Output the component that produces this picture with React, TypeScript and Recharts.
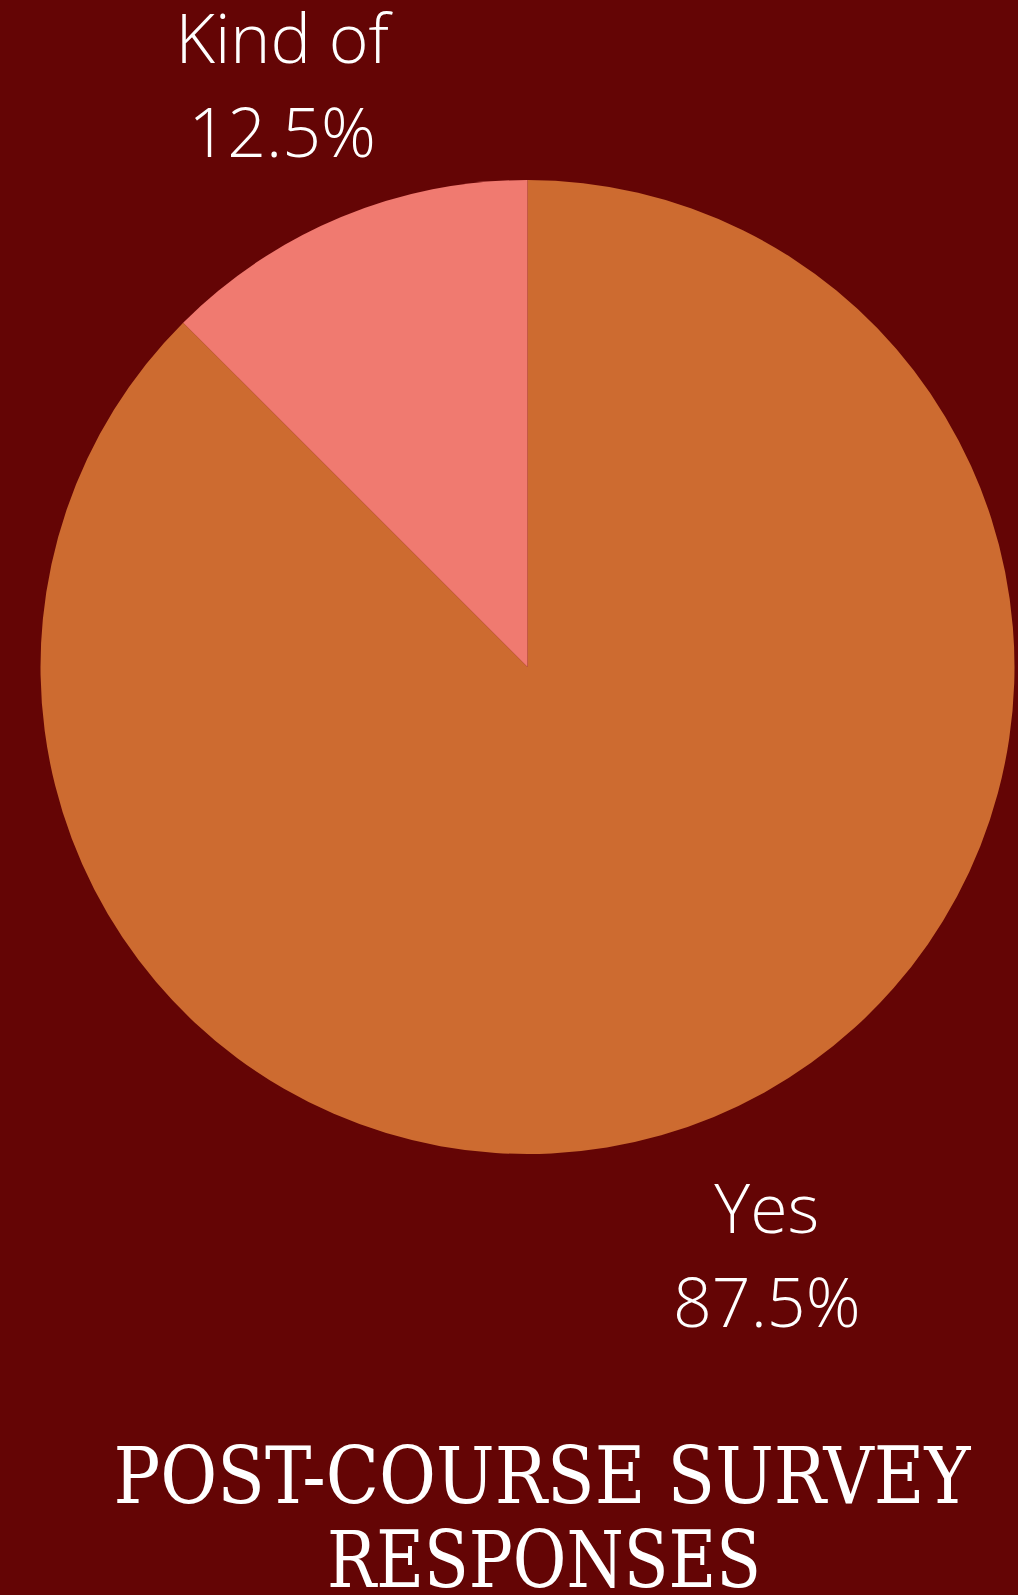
import { Cell, Pie, PieChart } from 'recharts';

const W = 1018;
const H = 1595;
const BG = '#640505';

const categories = ['Yes', 'Kind of'];
const shares = [87.5, 12.5];
const COLORS = ['#cd6b30', '#f07a70'];
const titleLines = ['POST-COURSE SURVEY', 'RESPONSES'];

const data = categories.map((name, i) => ({ name, value: shares[i] }));

const RADIAN = Math.PI / 180;

// label sits well outside the pie along the slice's middle angle
function renderLabel(props: any) {
  const { cx, cy, midAngle, outerRadius, percent, name } = props;
  const r = outerRadius * 1.3;
  const x = cx + r * Math.cos(-midAngle * RADIAN) - 3;
  const y = cy + r * Math.sin(-midAngle * RADIAN);
  return (
    <text
      x={x}
      y={y}
      fill="#ffffff"
      textAnchor="middle"
      fontFamily="'Open Sans', sans-serif"
      fontWeight={300}
      fontSize={68}
    >
      <tspan x={x} dy={-19}>{name}</tspan>
      <tspan x={x} dy={94}>{`${(percent * 100).toFixed(1)}%`}</tspan>
    </text>
  );
}

export default function App() {
  return (
    <div
      style={{
        position: 'absolute',
        left: 0,
        top: 0,
        width: W,
        height: H,
        background: BG,
        overflow: 'hidden',
      }}
    >
      <PieChart width={W} height={H} margin={{ top: 0, right: 0, bottom: 0, left: 0 }}>
        <Pie
          data={data}
          dataKey="value"
          nameKey="name"
          cx={527.5}
          cy={667}
          outerRadius={487}
          startAngle={90}
          endAngle={-270}
          stroke="none"
          label={renderLabel}
          labelLine={false}
          isAnimationActive={false}
        >
          {data.map((d, i) => (
            <Cell key={d.name} fill={COLORS[i % COLORS.length]} />
          ))}
        </Pie>
      </PieChart>
      <svg
        width={W}
        height={H}
        style={{ position: 'absolute', left: 0, top: 0, pointerEvents: 'none' }}
      >
        <text
          x={542}
          y={1503}
          textAnchor="middle"
          fill="#ffffff"
          fontFamily="'DejaVu Serif', serif"
          fontSize={78}
          textLength={857}
          lengthAdjust="spacingAndGlyphs"
        >
          {titleLines[0]}
        </text>
        <text
          x={544}
          y={1587}
          textAnchor="middle"
          fill="#ffffff"
          fontFamily="'DejaVu Serif', serif"
          fontSize={78}
          textLength={434}
          lengthAdjust="spacingAndGlyphs"
        >
          {titleLines[1]}
        </text>
      </svg>
    </div>
  );
}
